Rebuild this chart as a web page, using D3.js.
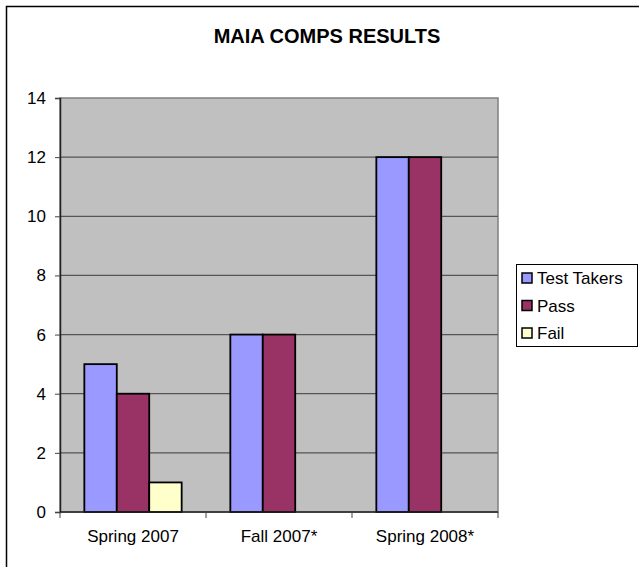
<!DOCTYPE html>
<html>
<head>
<meta charset="utf-8">
<script src="https://cdn.jsdelivr.net/npm/d3@7"></script>
<style>
  body { margin: 0; background: #fff; }
  text { font-family: Arial, "Liberation Sans", sans-serif; }
</style>
</head>
<body>
<div class="canvas"></div>
<script>
// Data
const categories = ["Spring 2007", "Fall 2007*", "Spring 2008*"];
const series_names = ["Test Takers", "Pass", "Fail"];
const test_takers = [5, 6, 12];
const pass = [4, 6, 12];
const fail = [1, 0, 0];
const y_ticks = [0, 2, 4, 6, 8, 10, 12, 14];
const series_values = [test_takers, pass, fail];
const series_colors = ["#9999FF", "#993366", "#FFFFCC"];

// Settings
const width = 639;
const height = 567;
const plot = {left: 60, right: 498, top: 98, bottom: 512};
const axis_font = 17;

const svg = d3.select(".canvas").append("svg")
    .attr("width", width)
    .attr("height", height);

// outer chart border (runs off the right and bottom edge)
svg.append("rect")
    .attr("x", 6.5).attr("y", 6.5)
    .attr("width", 700).attr("height", 700)
    .attr("fill", "#fff")
    .attr("stroke", "#000")
    .attr("stroke-width", 1.5);

svg.append("text")
    .attr("x", 327).attr("y", 43)
    .attr("text-anchor", "middle")
    .attr("font-size", "20px")
    .attr("font-weight", "bold")
    .text("MAIA COMPS RESULTS");

var xScale = d3.scaleBand().domain(categories).range([plot.left, plot.right]);
var yScale = d3.scaleLinear().domain([0, 14]).range([plot.bottom, plot.top]);
// 150% gap width, bars touching inside a group
var bar_w = xScale.bandwidth() / (series_names.length + 1.5);

var g = svg.append("g");

g.append("rect")
    .attr("x", plot.left).attr("y", plot.top)
    .attr("width", plot.right - plot.left)
    .attr("height", plot.bottom - plot.top)
    .attr("fill", "#C0C0C0")
    .attr("stroke", "#808080")
    .attr("stroke-width", 1.5);

// gridlines
g.selectAll("line.grid")
  .data(y_ticks.filter(d => d > 0 && d < 14))
  .enter()
  .append("line")
  .attr("class", "grid")
  .attr("x1", plot.left).attr("x2", plot.right)
  .attr("y1", d => yScale(d)).attr("y2", d => yScale(d))
  .attr("stroke", "#555")
  .attr("stroke-width", 1.2);

// bars
series_values.forEach(function(vals, si) {
    g.selectAll("rect.s" + si)
      .data(vals.map((v, i) => ({cat: categories[i], value: v})).filter(d => d.value > 0))
      .enter()
      .append("rect")
      .attr("class", "s" + si)
      .attr("x", d => xScale(d.cat) + bar_w * 0.75 + si * bar_w)
      .attr("y", d => yScale(d.value))
      .attr("width", bar_w)
      .attr("height", d => yScale(0) - yScale(d.value))
      .attr("fill", series_colors[si])
      .attr("stroke", "#000")
      .attr("stroke-width", 1.8);
});

// y axis
var yAxis = d3.axisLeft(yScale).tickValues(y_ticks).tickSize(5).tickPadding(9);
var ya = svg.append("g")
    .attr("transform", "translate(" + plot.left + ",0)")
    .call(yAxis);
ya.select(".domain").attr("stroke", "#222").attr("stroke-width", 1.5);
ya.selectAll(".tick line").attr("stroke", "#444");
ya.selectAll("text").attr("font-size", axis_font + "px").attr("fill", "#000")
    .style("font-family", "Arial, 'Liberation Sans', sans-serif");

// x axis: ticks on category boundaries
var xa = svg.append("g").attr("transform", "translate(0," + plot.bottom + ")");
xa.append("line")
    .attr("x1", plot.left).attr("x2", plot.right)
    .attr("stroke", "#222").attr("stroke-width", 1.5);
xa.selectAll("line.xtick")
  .data(categories.map(c => xScale(c)).concat([plot.right]))
  .enter()
  .append("line")
  .attr("class", "xtick")
  .attr("x1", d => d).attr("x2", d => d)
  .attr("y1", 0).attr("y2", 6)
  .attr("stroke", "#444");
xa.selectAll("text")
  .data(categories)
  .enter()
  .append("text")
  .attr("x", d => xScale(d) + xScale.bandwidth() / 2)
  .attr("y", 30)
  .attr("text-anchor", "middle")
  .attr("font-size", axis_font + "px")
  .text(d => d);

// legend
var lg = svg.append("g");
lg.append("rect")
    .attr("x", 516.5).attr("y", 264.5)
    .attr("width", 121).attr("height", 82)
    .attr("fill", "#fff")
    .attr("stroke", "#000")
    .attr("stroke-width", 1);
series_names.forEach(function(name, i) {
    var cy = 278 + i * 27.5;
    lg.append("rect")
      .attr("x", 522).attr("y", cy - 5)
      .attr("width", 10).attr("height", 10)
      .attr("fill", series_colors[i])
      .attr("stroke", "#000")
      .attr("stroke-width", 1.5);
    lg.append("text")
      .attr("x", 537).attr("y", cy + 6)
      .attr("font-size", axis_font + "px")
      .text(name);
});
</script>
</body>
</html>
